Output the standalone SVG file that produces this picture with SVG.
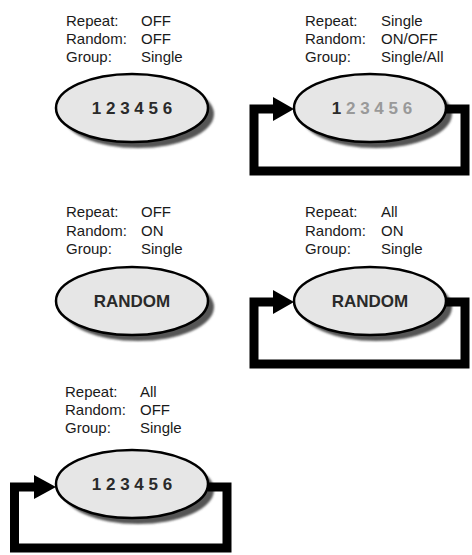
<svg xmlns="http://www.w3.org/2000/svg" width="472" height="555" viewBox="0 0 472 555">
<style>
.lbl{font-family:"Liberation Sans",Arial,sans-serif;font-size:15px;fill:#1a1a1a}
.num{font-family:"Liberation Sans",Arial,sans-serif;font-size:17px;font-weight:bold;fill:#2a2a2a;text-anchor:middle}
.dim{fill:#999999}
.oval{fill:#e6e6e6;stroke:#000;stroke-width:2.5}
.shadow{fill:#555;filter:url(#blur)}
.loop{fill:none;stroke:#000;stroke-width:9;stroke-linejoin:miter;stroke-linecap:butt}
.head{fill:#000}
</style>
<defs>
<filter id="blur" x="-10%" y="-20%" width="120%" height="140%"><feGaussianBlur stdDeviation="1.3"/></filter>
</defs>

<g id="panel1">
<text class="lbl" x="66" y="26">Repeat:</text><text class="lbl" x="141" y="26">OFF</text>
<text class="lbl" x="66" y="44">Random:</text><text class="lbl" x="141" y="44">OFF</text>
<text class="lbl" x="66" y="62">Group:</text><text class="lbl" x="141" y="62">Single</text>
<ellipse class="shadow" cx="138" cy="114" rx="76" ry="34"/>
<ellipse class="oval" cx="132" cy="108" rx="76" ry="34"/>
<text class="num" x="132" y="114">1 2 3 4 5 6</text>
</g>

<g id="panel2">
<text class="lbl" x="305" y="26">Repeat:</text><text class="lbl" x="381" y="26">Single</text>
<text class="lbl" x="305" y="44">Random:</text><text class="lbl" x="381" y="44">ON/OFF</text>
<text class="lbl" x="305" y="62">Group:</text><text class="lbl" x="381" y="62">Single/All</text>
<ellipse class="shadow" cx="376" cy="114" rx="76" ry="34"/>
<ellipse class="oval" cx="370" cy="108" rx="76" ry="34"/>
<text class="num" x="372" y="114">1 <tspan class="dim">2 3 4 5 6</tspan></text>
</g>

<g id="panel3">
<text class="lbl" x="66" y="217">Repeat:</text><text class="lbl" x="141" y="217">OFF</text>
<text class="lbl" x="66" y="235.5">Random:</text><text class="lbl" x="141" y="235.5">ON</text>
<text class="lbl" x="66" y="254">Group:</text><text class="lbl" x="141" y="254">Single</text>
<ellipse class="shadow" cx="138" cy="307" rx="76" ry="34"/>
<ellipse class="oval" cx="132" cy="301" rx="76" ry="34"/>
<text class="num" x="132" y="307">RANDOM</text>
</g>

<g id="panel4">
<text class="lbl" x="305" y="217">Repeat:</text><text class="lbl" x="381" y="217">All</text>
<text class="lbl" x="305" y="235.5">Random:</text><text class="lbl" x="381" y="235.5">ON</text>
<text class="lbl" x="305" y="254">Group:</text><text class="lbl" x="381" y="254">Single</text>
<ellipse class="shadow" cx="376" cy="307" rx="76" ry="34"/>
<ellipse class="oval" cx="370" cy="301" rx="76" ry="34"/>
<text class="num" x="370" y="307">RANDOM</text>
</g>

<g id="panel5">
<text class="lbl" x="65" y="397">Repeat:</text><text class="lbl" x="140" y="397">All</text>
<text class="lbl" x="65" y="415">Random:</text><text class="lbl" x="140" y="415">OFF</text>
<text class="lbl" x="65" y="433">Group:</text><text class="lbl" x="140" y="433">Single</text>
<ellipse class="shadow" cx="138" cy="490" rx="76" ry="34"/>
<ellipse class="oval" cx="132" cy="484" rx="76" ry="34"/>
<text class="num" x="132" y="490">1 2 3 4 5 6</text>
</g>

<g id="connectors">
<path class="loop" d="M446 109 H465 V171 H254 V109 H274"/>
<polygon class="head" points="273,97 294,109 273,121"/>
<path class="loop" d="M446 302 H465 V364 H254 V302 H274"/>
<polygon class="head" points="273,290 294,302 273,314"/>
<path class="loop" d="M208 487 H227 V548 H14.5 V487 H35"/>
<polygon class="head" points="34,475 56,487 34,499"/>
</g>
</svg>
